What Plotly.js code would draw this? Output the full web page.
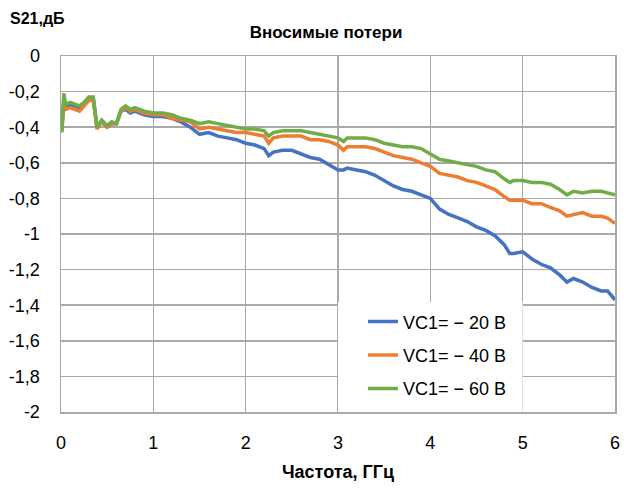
<!DOCTYPE html>
<html>
<head>
<meta charset="utf-8">
<script src="https://cdn.plot.ly/plotly-3.0.1.min.js"></script>
<style>html,body{margin:0;padding:0;background:#fff;}#chart{width:624px;height:489px;}</style>
</head>
<body>
<div id="chart"></div>
<script>
const freq = [0, 0.01, 0.03, 0.05, 0.1, 0.15, 0.2, 0.25, 0.3, 0.35, 0.39, 0.44, 0.5, 0.55, 0.6, 0.65, 0.7, 0.75, 0.8, 0.9, 1.0, 1.1, 1.2, 1.3, 1.4, 1.5, 1.6, 1.7, 1.8, 1.9, 2.0, 2.1, 2.2, 2.25, 2.3, 2.4, 2.5, 2.6, 2.7, 2.8, 2.9, 3.0, 3.06, 3.1, 3.2, 3.3, 3.4, 3.5, 3.6, 3.7, 3.8, 3.9, 4.0, 4.1, 4.2, 4.3, 4.4, 4.5, 4.6, 4.7, 4.8, 4.86, 4.9, 5.0, 5.1, 5.2, 5.3, 5.4, 5.48, 5.55, 5.65, 5.75, 5.85, 5.92, 6.0];

const s21_20 = [-0.30, -0.40, -0.25, -0.29, -0.28, -0.28, -0.29, -0.27, -0.24, -0.24, -0.40, -0.37, -0.40, -0.38, -0.38, -0.31, -0.30, -0.32, -0.31, -0.33, -0.34, -0.34, -0.35, -0.37, -0.40, -0.44, -0.43, -0.45, -0.46, -0.47, -0.49, -0.50, -0.52, -0.56, -0.54, -0.53, -0.53, -0.55, -0.57, -0.58, -0.61, -0.64, -0.64, -0.63, -0.64, -0.65, -0.67, -0.70, -0.73, -0.75, -0.76, -0.78, -0.80, -0.86, -0.89, -0.91, -0.93, -0.96, -0.98, -1.01, -1.06, -1.11, -1.11, -1.10, -1.14, -1.17, -1.19, -1.23, -1.27, -1.25, -1.27, -1.30, -1.32, -1.32, -1.37];

const s21_40 = [-0.32, -0.42, -0.26, -0.30, -0.29, -0.30, -0.31, -0.28, -0.25, -0.25, -0.41, -0.37, -0.40, -0.38, -0.38, -0.31, -0.29, -0.31, -0.30, -0.32, -0.33, -0.33, -0.35, -0.36, -0.37, -0.41, -0.40, -0.41, -0.42, -0.43, -0.43, -0.44, -0.45, -0.49, -0.46, -0.45, -0.45, -0.45, -0.47, -0.47, -0.48, -0.50, -0.53, -0.51, -0.51, -0.51, -0.52, -0.54, -0.56, -0.57, -0.58, -0.60, -0.62, -0.66, -0.67, -0.68, -0.70, -0.71, -0.73, -0.75, -0.79, -0.81, -0.81, -0.81, -0.83, -0.83, -0.85, -0.87, -0.90, -0.89, -0.88, -0.90, -0.90, -0.91, -0.94];

const s21_60 = [-0.30, -0.43, -0.21, -0.27, -0.26, -0.27, -0.28, -0.26, -0.23, -0.23, -0.40, -0.36, -0.39, -0.37, -0.38, -0.30, -0.28, -0.30, -0.29, -0.31, -0.32, -0.32, -0.33, -0.35, -0.36, -0.38, -0.37, -0.38, -0.39, -0.40, -0.41, -0.41, -0.42, -0.45, -0.43, -0.42, -0.42, -0.42, -0.43, -0.44, -0.45, -0.46, -0.48, -0.46, -0.46, -0.46, -0.47, -0.49, -0.50, -0.51, -0.51, -0.52, -0.55, -0.58, -0.59, -0.60, -0.61, -0.62, -0.64, -0.65, -0.69, -0.71, -0.70, -0.70, -0.71, -0.71, -0.72, -0.75, -0.78, -0.76, -0.77, -0.76, -0.76, -0.77, -0.78];

const seriesNames = ["VC1= \u2212 20 В", "VC1= \u2212 40 В", "VC1= \u2212 60 В"];
const seriesColors = ["#4472C4", "#ED7D31", "#70AD47"];
const yTickVals = [0, -0.2, -0.4, -0.6, -0.8, -1, -1.2, -1.4, -1.6, -1.8, -2];
const yTickText = ["0", "-0,2", "-0,4", "-0,6", "-0,8", "-1", "-1,2", "-1,4", "-1,6", "-1,8", "-2"];
const xTickVals = [0, 1, 2, 3, 4, 5, 6];
const xTickText = ["0", "1", "2", "3", "4", "5", "6"];

const FONT = "Liberation Sans, Arial, sans-serif";
const grid = "#a9a9a9";

const ys = [s21_20, s21_40, s21_60];
const traces = ys.map((y, i) => ({
  x: freq, y: y, type: "scatter", mode: "lines",
  name: seriesNames[i], legendgroup: "g" + i,
  line: {color: seriesColors[i], width: 3.5}
}));

const layout = {
  width: 624, height: 489,
  margin: {l: 61, r: 9, t: 56, b: 77, pad: 0},
  paper_bgcolor: "#fff", plot_bgcolor: "#fff",
  font: {family: FONT, color: "#000", size: 18},
  title: {text: "<b>Вносимые потери</b>", font: {family: FONT, size: 17, color: "#000"},
          x: 326/624, xref: "container", xanchor: "center",
          y: 1 - 32/489, yref: "container", yanchor: "middle"},
  xaxis: {range: [0, 6], tickvals: xTickVals, ticktext: xTickText, ticks: "",
          showgrid: true, gridcolor: grid, gridwidth: 1.5, zeroline: false,
          showline: true, linecolor: grid, linewidth: 1.5, mirror: true,
          tickfont: {size: 18}, ticklabelstandoff: 14,
          title: {text: "<b>Частота, ГГц</b>", font: {size: 18}, standoff: 13}},
  yaxis: {range: [-2, 0], tickvals: yTickVals, ticktext: yTickText, ticks: "",
          showgrid: true, gridcolor: grid, gridwidth: 1.5, zeroline: false,
          showline: true, linecolor: grid, linewidth: 1.5, mirror: true,
          tickfont: {size: 18}, ticklabelstandoff: 16},
  showlegend: true,
  legend: {x: 0.545, xanchor: "left", y: 0.305, yanchor: "top", bgcolor: "rgba(255,255,255,0)",
           borderwidth: 0, font: {size: 18}, traceorder: "grouped", tracegroupgap: 7},
  shapes: [{type: "rect", xref: "x", yref: "y", x0: 3, x1: 5, y0: -2, y1: -1.382,
            fillcolor: "#fff", line: {width: 0}, layer: "between"}],
  annotations: [{text: "<b>S21,дБ</b>", xref: "paper", yref: "paper", x: (8-61)/554, y: (412-19)/356,
                 xanchor: "left", yanchor: "middle", showarrow: false, font: {size: 16}}]
};

Plotly.newPlot("chart", traces, layout, {displayModeBar: false, staticPlot: true});
</script>
</body>
</html>
